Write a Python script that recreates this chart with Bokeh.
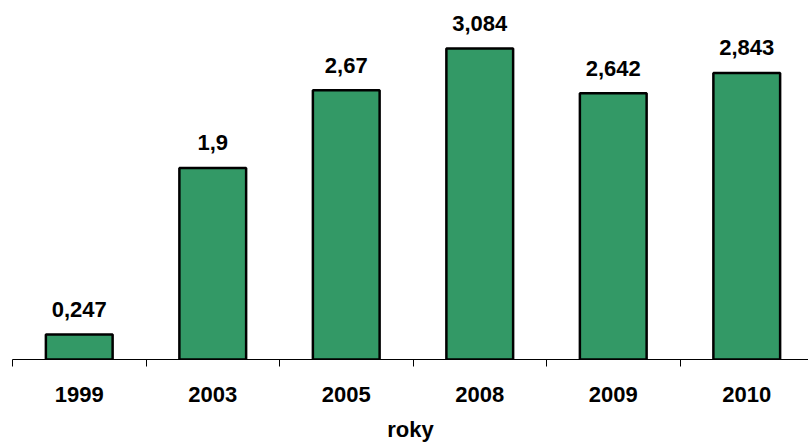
from bokeh.plotting import figure
from bokeh.models import Range1d, FixedTicker, ColumnDataSource
from bokeh.embed import file_html
from bokeh.resources import INLINE
from bokeh.core.properties import value

years = ["1999", "2003", "2005", "2008", "2009", "2010"]
values = [0.247, 1.9, 2.67, 3.084, 2.642, 2.843]
value_labels = [f"{v}".replace(".", ",") for v in values]
axis_title = "roky"

n = len(years)
centers = [i + 0.5 for i in range(n)]
src = ColumnDataSource(dict(x=centers, top=values, label=value_labels))

p = figure(width=808, height=444, output_backend="svg", toolbar_location=None,
           x_range=Range1d(0, 796 / 133.5), y_range=Range1d(0, 3.561),
           min_border_left=12, min_border_right=0, min_border_top=0, min_border_bottom=85)
p.vbar(x="x", top="top", width=0.5, bottom=0, source=src,
       fill_color="#339966", line_color="black", line_width=2.5)
p.text(x="x", y="top", text="label", source=src, text_align="center",
       text_baseline="alphabetic", y_offset=-25, text_font=value("Liberation Sans"),
       text_font_style="bold", text_font_size="22px", text_color="black")

p.yaxis.visible = False
p.xgrid.visible = False
p.ygrid.visible = False
p.outline_line_color = None

ax = p.xaxis[0]
ax.ticker = FixedTicker(ticks=centers, minor_ticks=list(range(n + 1)))
ax.major_label_overrides = {c: y for c, y in zip(centers, years)}
ax.major_tick_out = 0
ax.major_tick_in = 0
ax.minor_tick_out = 7
ax.minor_tick_in = 0
ax.minor_tick_line_color = "black"
ax.axis_line_color = "black"
ax.major_label_text_font = "Liberation Sans"
ax.major_label_text_font_style = "bold"
ax.major_label_text_font_size = "22px"
ax.major_label_text_color = "black"
ax.major_label_standoff = 20
ax.axis_label = axis_title
ax.axis_label_text_font = "Liberation Sans"
ax.axis_label_text_font_style = "bold"
ax.axis_label_text_font_size = "22px"
ax.axis_label_text_color = "black"
ax.axis_label_standoff = 12

open("out.html", "w").write(file_html(p, INLINE))
